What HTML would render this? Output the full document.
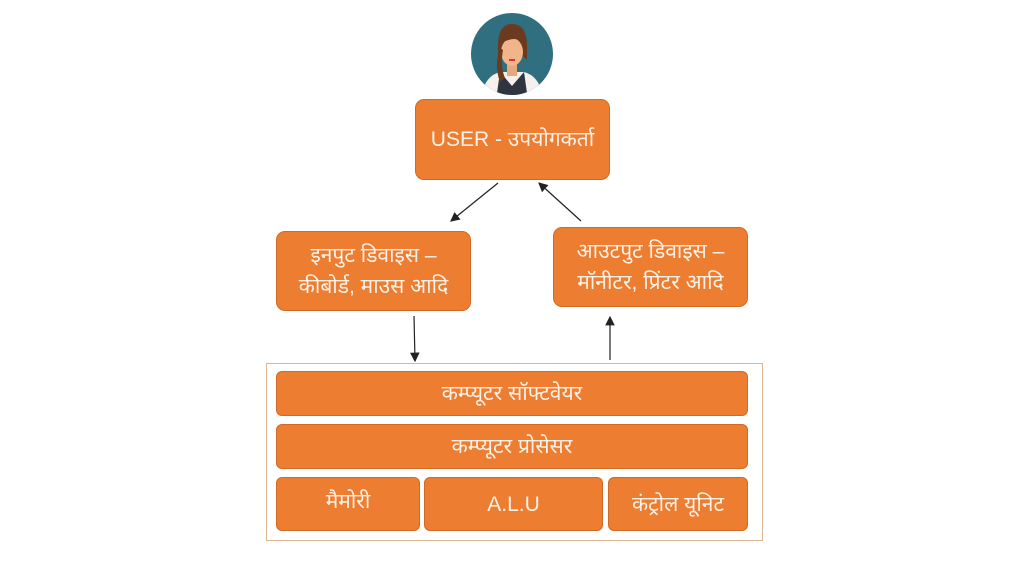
<!DOCTYPE html>
<html><head><meta charset="utf-8"><style>
body{margin:0;width:1024px;height:576px;background:#fff;position:relative;overflow:hidden;font-family:"Liberation Sans","Noto Sans CJK SC",sans-serif}
.b{position:absolute;background:#ed7d31;border:1px solid #d06a25;border-radius:9px;color:#fdf1e6;display:flex;align-items:center;justify-content:center;text-align:center;font-size:21px;line-height:31px;box-sizing:border-box}
.s{border-radius:6px}
</style></head><body>
<div style="position:absolute;left:266px;top:363px;width:497px;height:178px;border:1.5px solid #dcb690;box-sizing:border-box"></div>
<svg style="position:absolute;left:0;top:0" width="1024" height="576">
<defs><marker id="a" markerWidth="8" markerHeight="8" refX="7" refY="4" orient="auto"><path d="M0,0L8,4L0,8z" fill="#222"/></marker>
<clipPath id="c"><circle cx="512" cy="54" r="41"/></clipPath></defs>
<circle cx="512" cy="54" r="41" fill="#2f6f80"/>
<g clip-path="url(#c)">
<path d="M480,100 Q484,76 500,72 L524,72 Q540,76 544,100z" fill="#f4f1ec"/>
<path d="M496,100 L500,72 L512,86 L524,72 L528,100z" fill="#2e3440"/>
<rect x="507" y="62" width="10" height="14" fill="#e9a77d"/>
<path d="M498,46 Q498,24 512,24 Q527,24 527,46 L527,60 Q520,52 512,52 Q504,52 498,60z" fill="#6b3a1f"/>
<ellipse cx="512" cy="52" rx="11" ry="14" fill="#f0b58a"/>
<path d="M500,44 Q503,28 512,28 Q524,28 525,44 Q516,34 500,44z" fill="#6b3a1f"/>
<path d="M500,48 Q494,66 500,82 L505,78 Q500,66 503,50z" fill="#6b3a1f"/>
<rect x="509" y="59" width="6" height="2" fill="#d33"/>
</g>
<g stroke="#222" stroke-width="1.2" fill="none" marker-end="url(#a)">
<line x1="498" y1="183" x2="451" y2="221"/>
<line x1="581" y1="221" x2="539" y2="183"/>
<line x1="414" y1="316" x2="415" y2="361"/>
<line x1="610" y1="360" x2="610" y2="317"/>
</g>
</svg>
<div class="b" style="left:415px;top:99px;width:195px;height:81px">USER - उपयोगकर्ता</div>
<div class="b" style="left:276px;top:231px;width:195px;height:80px">इनपुट डिवाइस –<br>कीबोर्ड, माउस आदि</div>
<div class="b" style="left:553px;top:227px;width:195px;height:80px">आउटपुट डिवाइस –<br>मॉनीटर, प्रिंटर आदि</div>
<div class="b s" style="left:276px;top:371px;width:472px;height:45px">कम्प्यूटर सॉफ्टवेयर</div>
<div class="b s" style="left:276px;top:424px;width:472px;height:45px">कम्प्यूटर प्रोसेसर</div>
<div class="b s" style="left:276px;top:477px;width:144px;height:54px;align-items:flex-start;padding-top:8px">मैमोरी</div>
<div class="b s" style="left:424px;top:477px;width:179px;height:54px">A.L.U</div>
<div class="b s" style="left:608px;top:477px;width:140px;height:54px">कंट्रोल यूनिट</div>
</body></html>
